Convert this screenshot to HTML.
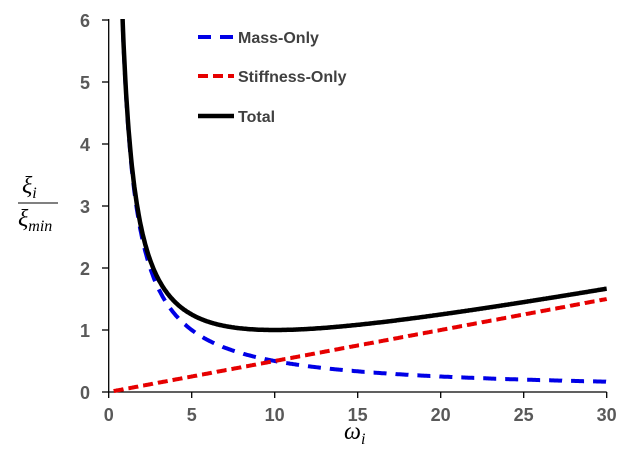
<!DOCTYPE html><html><head><style>body{margin:0;background:#fff}svg{display:block}
.t{font-family:"Liberation Sans",sans-serif;font-weight:bold;font-size:18px;fill:#595959}
.l{font-family:"Liberation Sans",sans-serif;font-weight:bold;font-size:16px;fill:#404040}
.m{font-family:"Liberation Serif",serif;font-style:italic;fill:#000}</style></head><body>
<svg id="s" width="626" height="472" xmlns="http://www.w3.org/2000/svg">
<defs><clipPath id="c"><rect x="108" y="19" width="500" height="375"/></clipPath></defs>
<g stroke="#000" stroke-width="1.3">
<line x1="108.7" y1="19" x2="108.7" y2="392"/><line x1="108.7" y1="392" x2="606.7" y2="392"/>
</g>
<g id="ticks" stroke="#000" stroke-width="1.3"></g>
<g id="labels"></g>
<g clip-path="url(#c)" fill="none" stroke-width="4">
<path id="pm" stroke="#0000e6" stroke-dasharray="13,9"/>
<path id="ps" stroke="#e60000" stroke-dasharray="10,5"/>
<path id="pt" stroke="#000" stroke-width="4.5"/>
</g>
<line x1="198" y1="37" x2="234" y2="37" stroke="#0000e6" stroke-width="4" stroke-dasharray="13,9"/>
<line x1="198" y1="76" x2="234" y2="76" stroke="#e60000" stroke-width="4" stroke-dasharray="10,5"/>
<line x1="198" y1="116" x2="234" y2="116" stroke="#000" stroke-width="4.5"/>
<text class="l" x="238" y="43">Mass-Only</text>
<text class="l" x="238" y="82">Stiffness-Only</text>
<text class="l" x="238" y="122">Total</text>
<text class="m" x="22" y="193" font-size="24">ξ<tspan font-size="16" dy="5">i</tspan></text>
<line x1="18" y1="203" x2="58" y2="203" stroke="#000" stroke-width="1"/>
<text class="m" x="18" y="226" font-size="24">ξ<tspan font-size="16" dy="5">min</tspan></text>
<text class="m" x="344" y="439" font-size="24">ω<tspan font-size="16" dy="5">i</tspan></text>
</svg>
<script>
var X=w=>108.7+w*16.6,Y=v=>392-v*62;
var t=document.getElementById('ticks'),lb=document.getElementById('labels'),ns='http://www.w3.org/2000/svg',h='';
for(var i=0;i<=6;i++){h+='<line x1="102" y1="'+Y(i)+'" x2="108.7" y2="'+Y(i)+'"/>';}
for(var i=0;i<=30;i+=5){h+='<line x1="'+X(i)+'" y1="392" x2="'+X(i)+'" y2="398"/>';}
t.innerHTML=h;h='';
for(var i=0;i<=6;i++)h+='<text class="t" x="90" y="'+(Y(i)+7)+'" text-anchor="end">'+i+'</text>';
for(var i=0;i<=30;i+=5)h+='<text class="t" x="'+X(i)+'" y="421" text-anchor="middle">'+i+'</text>';
lb.innerHTML=h;
function p(f,a){var d='';for(var w=a;w<=30.001;w+=0.05){d+=(d?'L':'M')+X(w).toFixed(1)+','+Y(f(w)).toFixed(1);}return d;}
document.getElementById('pm').setAttribute('d',p(w=>5/w,0.6));
document.getElementById('ps').setAttribute('d',p(w=>w/20,0.3));
document.getElementById('pt').setAttribute('d',p(w=>5/w+w/20,0.6));
</script></body></html>
